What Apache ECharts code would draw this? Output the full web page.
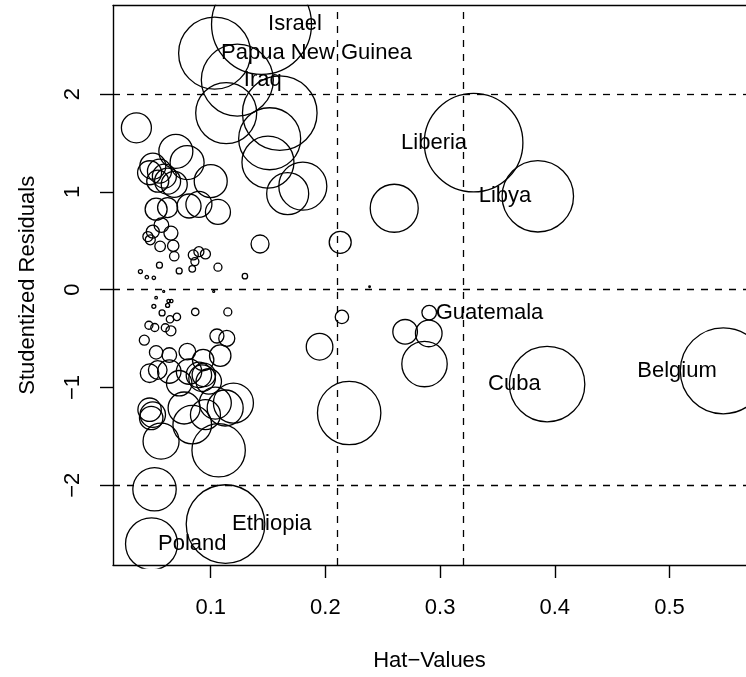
<!DOCTYPE html>
<html><head><meta charset="utf-8">
<script src="https://cdn.jsdelivr.net/npm/echarts@6/dist/echarts.min.js"></script>
<style>html,body{margin:0;padding:0;background:#fff}#c{width:746px;height:677px}</style>
</head><body><div id="c"></div>
<script>
// ---- data ----
const hatValues = [
 0.1443,0.1034,0.1232,0.1135,0.1602,0.1514,0.1499,0.1803,0.1671,
 0.0352,0.0696,0.0794,0.0495,0.0467,0.0553,0.0538,0.0624,0.0682,0.1000,
 0.0524,0.0624,0.0811,0.0897,0.1063,0.0596,
 0.0570,0.0495,0.0653,0.0452,0.0473,0.0559,0.0673,0.0682,0.0553,0.0725,
 0.0839,0.0862,0.0848,0.0897,0.0954,0.1063,0.1298,0.0387,0.0443,0.0504,
 0.1430,0.2129,0.2600,0.3292,0.3852,0.2385,0.0590,0.1026,
 0.0524,0.0633,0.0656,0.0624,0.0504,0.0576,0.0705,0.0645,0.0865,0.1149,
 0.0461,0.0512,0.0604,0.0653,0.0421,0.1054,0.1140,0.0524,0.0639,0.0796,
 0.0934,0.1083,0.0467,0.0538,0.0639,0.0725,0.0811,0.0897,0.0940,0.0925,
 0.0983,0.1040,0.1198,0.1126,0.0768,0.0839,0.0467,0.0495,0.0481,0.0567,
 0.0954,0.1069,0.0510,0.0484,0.1129,0.1949,0.2207,0.2144,0.2905,0.2695,
 0.2901,0.2864,0.3933,0.5469
];
const studResid = [
 2.715,2.420,2.145,1.807,1.807,1.545,1.305,1.060,0.983,
 1.657,1.416,1.301,1.264,1.197,1.213,1.111,1.111,1.078,1.111,
 0.824,0.841,0.857,0.874,0.796,1.162,
 0.661,0.595,0.580,0.544,0.511,0.444,0.450,0.343,0.251,0.193,
 0.214,0.288,0.356,0.389,0.366,0.231,0.139,0.186,0.129,0.122,
 0.468,0.485,0.834,1.505,0.956,0.031,-0.017,-0.017,
 -0.081,-0.115,-0.115,-0.160,-0.170,-0.237,-0.278,-0.302,-0.227,-0.227,
 -0.363,-0.386,-0.389,-0.420,-0.516,-0.473,-0.498,-0.641,-0.668,-0.633,
 -0.719,-0.674,-0.854,-0.821,-0.837,-0.956,-0.837,-0.871,-0.871,-0.905,
 -0.938,-1.159,-1.159,-1.210,-1.210,-1.380,-1.227,-1.278,-1.312,-1.549,
 -1.278,-1.642,-2.041,-2.600,-2.397,-0.583,-1.261,-0.278,-0.234,-0.430,
 -0.447,-0.760,-0.966,-0.829
];
// sqrt(Cook's D), scaled so that the largest is 10 (as in car::influencePlot)
const cookScaled = [
 10,7.2,7.2,6.1,7.46,6.2,5.2,4.8,4.2,
 3.0,3.4,3.4,2.6,2.4,2.4,2.2,2.6,2.6,3.3,
 2.2,2.0,2.4,2.6,2.5,2.4,
 1.46,1.3,1.4,1.0,1.0,1.06,1.14,0.94,0.6,0.6,
 0.66,0.8,1.0,1.0,1.0,0.8,0.54,0.4,0.34,0.34,
 1.8,2.2,4.8,9.86,7.14,0.16,0.2,0.2,
 0.26,0.34,0.34,0.4,0.4,0.6,0.74,0.74,0.74,0.8,
 0.8,0.8,0.8,1.0,1.0,1.4,1.6,1.34,1.46,1.66,
 2.14,2.14,1.86,1.86,2.34,2.54,2.54,2.54,2.34,2.66,
 2.54,3.2,4.0,3.6,3.2,3.86,2.34,2.54,2.34,3.6,
 3.0,5.34,4.34,5.2,7.86,2.66,6.34,1.34,1.46,2.46,
 2.66,4.54,7.54,8.6
];
const pointNames = hatValues.map(() => '');
const labelled = {0:'Israel',1:'Papua New Guinea',2:'Iraq',48:'Liberia',49:'Libya',
  96:'Poland',97:'Ethiopia',101:'Guatemala',105:'Cuba',106:'Belgium'};
Object.keys(labelled).forEach(k => { pointNames[+k] = labelled[k]; });

const hatCutoffs = [0.2124, 0.3186];      // 2 and 3 times mean hat-value
const residCutoffs = [-2, 0, 2];
const xTicks = [0.1, 0.2, 0.3, 0.4, 0.5];
const xTickLabels = ['0.1', '0.2', '0.3', '0.4', '0.5'];
const yTicks = [-2, -1, 0, 1, 2];
const yTickLabels = ['\u22122', '\u22121', '0', '1', '2'];

// ---- layout / style ----
const GRID = {left: 113, top: 5.5, width: 641.6, height: 562.5};
const X_MIN = 0.0148, X_MAX = 0.5667, Y_MIN = -2.816, Y_MAX = 2.908;
const R_PER_CEX = 5;
const FONT = 'Liberation Sans';
const FS = 22;
const LW = 1.4;

const pts = hatValues.map((h, i) => [h, studResid[i], cookScaled[i]]);
const mid = (X_MIN + X_MAX) / 2;
const labelPts = [];
pointNames.forEach((n, i) => {
  if (n) labelPts.push({name: n, value: [hatValues[i], studResid[i]],
    label: {position: hatValues[i] < mid ? 'right' : 'left'}});
});
function lab(ticks, labels) {
  return v => { const i = ticks.findIndex(t => Math.abs(t - v) < 1e-9); return i >= 0 ? labels[i] : ''; };
}
const txt = {fontFamily: FONT, fontSize: FS, color: '#000'};
const axLine = {show: true, onZero: false, lineStyle: {color: '#000', width: LW}};

const chart = echarts.init(document.getElementById('c'), null, {renderer: 'canvas'});
chart.setOption({
  animation: false,
  backgroundColor: '#fff',
  grid: {left: GRID.left, top: GRID.top, width: GRID.width, height: GRID.height, show: false},
  xAxis: [{
    type: 'value', min: X_MIN, max: X_MAX, z: 10,
    name: 'Hat\u2212Values', nameLocation: 'middle', nameGap: 85, nameTextStyle: txt,
    axisLine: axLine,
    axisTick: {show: true, customValues: xTicks, length: 13, lineStyle: {color: '#000', width: LW}},
    axisLabel: Object.assign({customValues: xTicks, formatter: lab(xTicks, xTickLabels), margin: 32}, txt),
    splitLine: {show: false}
  }, {
    type: 'value', position: 'top', min: X_MIN, max: X_MAX, z: 10,
    axisLine: axLine, axisTick: {show: false}, axisLabel: {show: false}, splitLine: {show: false}
  }],
  yAxis: [{
    type: 'value', min: Y_MIN, max: Y_MAX, z: 10,
    name: 'Studentized Residuals', nameLocation: 'middle', nameGap: 74, nameRotate: 90, nameTextStyle: txt,
    axisLine: axLine,
    axisTick: {show: true, customValues: yTicks, length: 13, lineStyle: {color: '#000', width: LW}},
    axisLabel: Object.assign({customValues: yTicks, formatter: lab(yTicks, yTickLabels), margin: 29, rotate: 90}, txt),
    splitLine: {show: false}
  }],
  graphic: [
    {type: 'rect', z: 3, silent: true, shape: {x: 0, y: 0, width: 746, height: GRID.top - 0.8}, style: {fill: '#fff'}},
    {type: 'rect', z: 3, silent: true, shape: {x: 0, y: GRID.top + GRID.height + 0.8, width: 746, height: 200}, style: {fill: '#fff'}},
    {type: 'rect', z: 3, silent: true, shape: {x: 0, y: 0, width: GRID.left - 0.8, height: 677}, style: {fill: '#fff'}}
  ],
  series: [{
    type: 'scatter', z: 2, silent: true,
    data: pts,
    symbol: 'circle',
    symbolSize: d => 2 * R_PER_CEX * d[2],
    itemStyle: {color: 'rgba(0,0,0,0)', borderColor: '#000', borderWidth: 1.3, opacity: 1},
    emphasis: {disabled: true},
    markLine: {
      silent: true, symbol: ['none', 'none'], label: {show: false},
      lineStyle: {type: [7, 7], color: '#000', width: 1.3},
      emphasis: {disabled: true},
      data: hatCutoffs.map(v => ({xAxis: v})).concat(residCutoffs.map(v => ({yAxis: v})))
    }
  }, {
    type: 'scatter', z: 4, silent: true,
    data: labelPts,
    symbol: 'circle', symbolSize: 1,
    itemStyle: {color: 'rgba(0,0,0,0)', opacity: 1},
    label: Object.assign({show: true, formatter: '{b}', distance: 6, opacity: 1,
      textBorderWidth: 0, textShadowBlur: 0}, txt),
    emphasis: {disabled: true}
  }]
});
</script></body></html>
